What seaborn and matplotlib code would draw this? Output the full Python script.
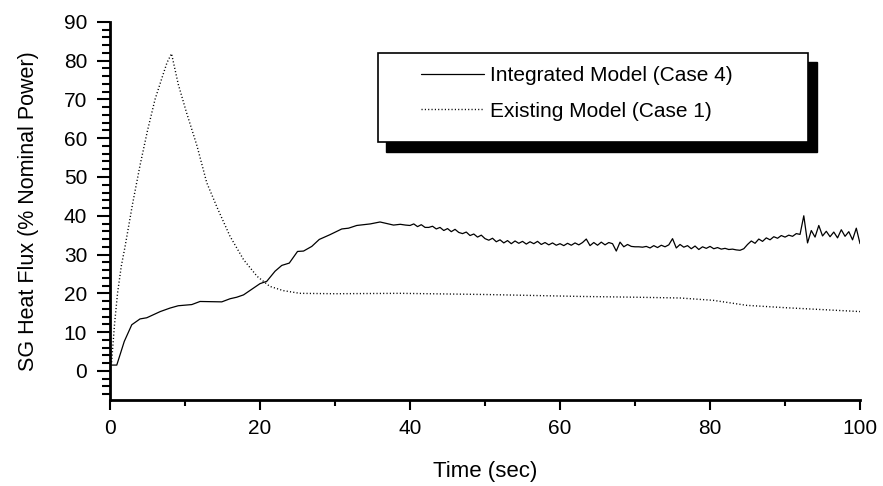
import matplotlib
matplotlib.use("Agg")
import matplotlib.pyplot as plt
from matplotlib.patches import Rectangle
from matplotlib.ticker import MultipleLocator
import seaborn as sns

# --- data ---
t_integrated = [
    0.2, 0.9, 1.9, 2.9, 4.0, 4.9, 6.7, 8.0, 9.1, 10.9, 12.0, 14.9, 16.0, 16.9,
    17.8, 19.1, 20.0, 20.9, 22.0, 22.9, 23.9, 25.0, 25.8, 26.9, 27.9, 29.3,
    30.9, 31.8, 32.9, 34.7, 36.0, 37.8, 38.7, 39.4,
    40.0, 40.5, 41.0, 41.5, 42.0, 42.5, 43.0, 43.5, 44.0, 44.5, 45.0, 45.5,
    46.0, 46.5, 47.0, 47.5, 48.0, 48.5, 49.0, 49.5, 50.0, 50.5, 51.0, 51.5,
    52.0, 52.5, 53.0, 53.5, 54.0, 54.5, 55.0, 55.5, 56.0, 56.5, 57.0, 57.5,
    58.0, 58.5, 59.0, 59.5, 60.0, 60.5, 61.0, 61.5, 62.0, 62.5, 63.0, 63.5,
    64.0, 64.5, 65.0, 65.5, 66.0, 66.5, 67.0, 67.5, 68.0, 68.5, 69.0, 69.5,
    70.0, 70.5, 71.0, 71.5, 72.0, 72.5, 73.0, 73.5, 74.0, 74.5, 75.0, 75.5,
    76.0, 76.5, 77.0, 77.5, 78.0, 78.5, 79.0, 79.5, 80.0, 80.5, 81.0, 81.5,
    82.0, 82.5, 83.0, 83.5, 84.0, 84.5, 85.0, 85.5, 86.0, 86.5, 87.0, 87.5,
    88.0, 88.5, 89.0, 89.5, 90.0, 90.5, 91.0, 91.5, 92.0, 92.5, 93.0, 93.5,
    94.0, 94.5, 95.0, 95.5, 96.0, 96.5, 97.0, 97.5, 98.0, 98.5, 99.0, 99.5,
    100.0,
]
flux_integrated = [
    1.5, 1.5, 7.6, 11.9, 13.4, 13.7, 15.3, 16.2, 16.8, 17.1, 17.9, 17.8, 18.6, 19.0,
    19.6, 21.3, 22.5, 23.1, 25.7, 27.2, 27.8, 30.8, 30.9, 32.1, 33.9, 35.1,
    36.6, 36.8, 37.5, 37.9, 38.4, 37.6, 37.8, 37.6,
    37.5, 37.9, 37.2, 37.7, 37.0, 37.0, 37.3, 36.6, 37.0, 36.2, 36.7, 35.9,
    36.5, 35.7, 35.4, 35.8, 34.9, 35.3, 34.5, 35.0, 34.1, 33.7, 34.2, 33.3,
    33.8, 33.0, 33.6, 32.8, 33.5, 32.9, 33.4, 32.7, 33.3, 32.8, 33.4, 32.6,
    33.1, 32.5, 33.0, 32.4, 32.8, 32.3, 32.9, 32.4, 33.0, 32.5, 33.1, 34.0,
    32.3, 33.1, 32.4, 33.2, 32.5, 33.1, 32.8, 30.9, 33.2, 32.0, 32.6, 32.1,
    32.0, 32.0, 31.9, 32.1, 31.7, 32.3, 31.8, 32.4, 32.0, 32.5, 34.1, 31.7,
    32.6, 31.9, 32.3, 31.5, 32.2, 31.3, 32.0, 31.6, 32.1, 31.5, 31.8, 31.4,
    31.6, 31.3, 31.4, 31.2, 31.1, 31.5, 32.6, 33.5, 32.9, 34.0, 33.4, 34.3,
    33.8, 34.6, 34.2, 34.9, 34.5, 35.0, 34.7, 35.4, 35.2, 40.0, 33.0, 36.2,
    34.5, 37.5, 34.8, 36.0, 34.6, 35.8, 34.3, 36.4, 34.7, 35.9, 33.8, 36.8,
    32.8,
]

t_existing = [
    0.0, 0.2, 0.6, 1.0, 1.5, 2.0, 3.0, 4.0, 5.0, 6.0, 7.0, 7.6, 8.2, 9.1,
    10.2, 11.6, 12.9, 14.4, 16.0, 17.8, 19.6, 21.3, 23.1, 25.3, 30.0, 38.7,
    50.0, 62.7, 70.0, 76.0, 80.4, 84.9, 90.0, 95.0, 100.0,
]
flux_existing = [
    1.5, 2.0, 12.0, 20.0, 27.0, 32.0, 43.0, 53.0, 62.0, 70.0, 76.0, 79.5, 81.8, 73.9,
    66.6, 58.0, 48.5, 41.6, 34.7, 28.7, 24.4, 21.8, 20.7, 20.0, 19.9, 20.0,
    19.7, 19.2, 19.0, 18.8, 18.2, 16.9, 16.3, 15.8, 15.3,
]

sns.set_style("ticks")
plt.rcParams['font.family'] = ['Liberation Sans', 'DejaVu Sans']
plt.rcParams['text.color'] = 'black'
plt.rcParams['axes.labelcolor'] = 'black'
plt.rcParams['xtick.color'] = 'black'
plt.rcParams['ytick.color'] = 'black'
plt.rcParams['axes.edgecolor'] = 'black'

fig = plt.figure(figsize=(8.83, 4.86), dpi=100)
ax = fig.add_axes([0.1246, 0.177, 0.8494, 0.778])

sns.lineplot(x=t_integrated, y=flux_integrated, color='black', linewidth=0.9,
             label='Integrated Model (Case 4)', ax=ax, zorder=2)
sns.lineplot(x=t_existing, y=flux_existing, color='black', linewidth=1.0,
             linestyle=(0, (0.8, 1.6)), label='Existing Model (Case 1)', ax=ax, zorder=2)

ax.set_xlim(0, 100)
ax.set_ylim(-7.5, 90)
ax.xaxis.set_major_locator(MultipleLocator(20))
ax.xaxis.set_minor_locator(MultipleLocator(10))
ax.yaxis.set_major_locator(MultipleLocator(10))
ax.yaxis.set_minor_locator(MultipleLocator(2))

sns.despine(ax=ax)
for side in ['left', 'bottom']:
    ax.spines[side].set_linewidth(2.0)
ax.tick_params(axis='y', which='major', length=9.4, width=1.5, labelsize=15, pad=7)
ax.tick_params(axis='y', which='minor', length=6, width=1.5)
ax.tick_params(axis='x', which='major', length=7, width=1.5, labelsize=15, pad=7)
ax.tick_params(axis='x', which='minor', length=4.3, width=1.5)

ax.set_xlabel('Time (sec)', fontsize=16, labelpad=16)
ax.set_ylabel('SG Heat Flux (% Nominal Power)', fontsize=15.5, labelpad=18)

# legend box with solid black drop shadow
ax.add_patch(Rectangle((0.357 + 0.011, 0.682 - 0.025), 0.574, 0.236, transform=ax.transAxes,
                       facecolor='black', edgecolor='black', zorder=3))
ax.add_patch(Rectangle((0.357, 0.682), 0.574, 0.236, transform=ax.transAxes,
                       facecolor='white', edgecolor='black', linewidth=1.2, zorder=4))
leg = ax.legend(loc='upper left', bbox_to_anchor=(0.415, 0.882), frameon=False,
                fontsize=15, handlelength=3.0, handletextpad=0.3,
                labelspacing=0.78, borderpad=0, borderaxespad=0)
leg.set_zorder(5)

plt.savefig('out.png', dpi=100)
